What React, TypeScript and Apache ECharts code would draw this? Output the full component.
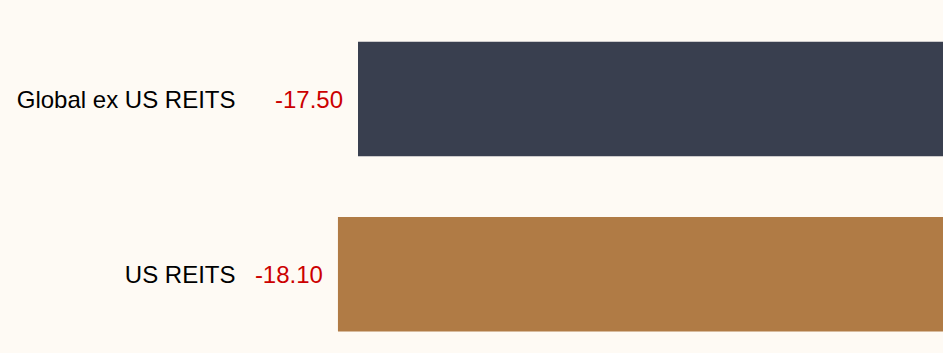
import React, { useEffect, useRef } from "react";
import * as echarts from "echarts";

const categories = ["Global ex US REITS", "US REITS"];
const values = [-17.5, -18.1];
const barColors = ["#393f4f", "#b07b45"];

export default function App() {
  const ref = useRef<HTMLDivElement>(null);
  useEffect(() => {
    if (!ref.current) return;
    const chart = echarts.init(ref.current, undefined, { renderer: "svg" });
    chart.setOption({
      animation: false,
      backgroundColor: "#fefaf4",
      grid: { left: 241, right: 0, top: 11.35, bottom: 0, containLabel: false },
      xAxis: {
        type: "value",
        min: -21,
        max: 0,
        show: false,
        splitLine: { show: false },
      },
      yAxis: {
        type: "category",
        inverse: true,
        data: categories,
        axisLine: { show: false },
        axisTick: { show: false },
        axisLabel: {
          margin: 5.5,
          color: "#000000",
          fontSize: 24,
          fontFamily: "'Liberation Sans', Arial, sans-serif",
        },
      },
      series: [
        {
          type: "bar",
          barWidth: 114.5,
          data: values.map((v, i) => ({ value: v, itemStyle: { color: barColors[i] } })),
          label: {
            show: true,
            position: "left",
            distance: 15,
            color: "#cc0000",
            fontSize: 24,
            fontFamily: "'Liberation Sans', Arial, sans-serif",
            formatter: (p: any) => Number(p.value).toFixed(2),
          },
        },
      ],
    });
    return () => chart.dispose();
  }, []);
  return (
    <div
      style={{
        position: "absolute",
        left: 0,
        top: 0,
        width: 943,
        height: 353,
        overflow: "hidden",
        background: "#fefaf4",
      }}
    >
      <div ref={ref} style={{ width: 943, height: 362 }} />
    </div>
  );
}
